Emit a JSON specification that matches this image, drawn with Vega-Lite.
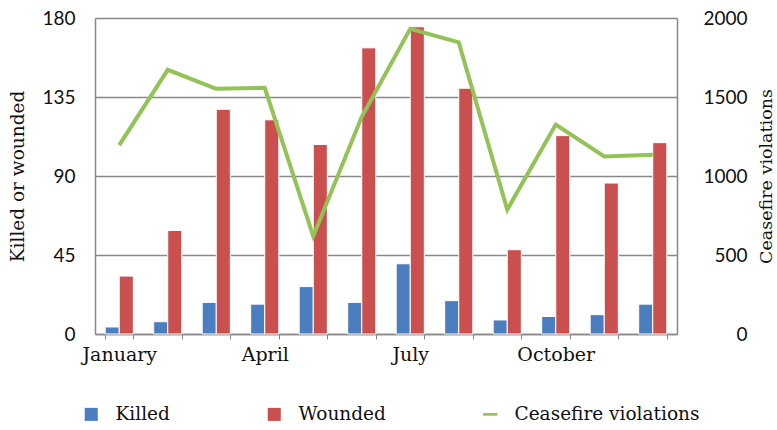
{
  "$schema": "https://vega.github.io/schema/vega-lite/v6.json",
  "width": 582,
  "height": 316,
  "autosize": {"type": "none"},
  "padding": {"left": 95, "top": 18, "right": 100, "bottom": 96},
  "background": "white",
  "config": {
    "view": {"stroke": null},
    "font": "DejaVu Serif",
    "axis": {"gridColor": "#888888", "domainColor": "#888888", "tickColor": "#888888", "labelColor": "#111111", "titleColor": "#111111", "titleFontWeight": "normal"},
    "legend": {"labelLimit": 400}
  },
  "datasets": {
    "bars": [
      {"month": "January", "series": "Killed", "value": 4},
      {"month": "January", "series": "Wounded", "value": 33},
      {"month": "February", "series": "Killed", "value": 7},
      {"month": "February", "series": "Wounded", "value": 59},
      {"month": "March", "series": "Killed", "value": 18},
      {"month": "March", "series": "Wounded", "value": 128},
      {"month": "April", "series": "Killed", "value": 17},
      {"month": "April", "series": "Wounded", "value": 122},
      {"month": "May", "series": "Killed", "value": 27},
      {"month": "May", "series": "Wounded", "value": 108},
      {"month": "June", "series": "Killed", "value": 18},
      {"month": "June", "series": "Wounded", "value": 163},
      {"month": "July", "series": "Killed", "value": 40},
      {"month": "July", "series": "Wounded", "value": 175},
      {"month": "August", "series": "Killed", "value": 19},
      {"month": "August", "series": "Wounded", "value": 140},
      {"month": "September", "series": "Killed", "value": 8},
      {"month": "September", "series": "Wounded", "value": 48},
      {"month": "October", "series": "Killed", "value": 10},
      {"month": "October", "series": "Wounded", "value": 113},
      {"month": "November", "series": "Killed", "value": 11},
      {"month": "November", "series": "Wounded", "value": 86},
      {"month": "December", "series": "Killed", "value": 17},
      {"month": "December", "series": "Wounded", "value": 109}
    ],
    "line": [
      {"month": "January", "violations": 1195},
      {"month": "February", "violations": 1672},
      {"month": "March", "violations": 1552},
      {"month": "April", "violations": 1558},
      {"month": "May", "violations": 619},
      {"month": "June", "violations": 1375},
      {"month": "July", "violations": 1931},
      {"month": "August", "violations": 1846},
      {"month": "September", "violations": 787},
      {"month": "October", "violations": 1326},
      {"month": "November", "violations": 1124},
      {"month": "December", "violations": 1135}
    ]
  },
  "encoding": {
    "x": {
      "field": "month",
      "type": "nominal",
      "sort": ["January","February","March","April","May","June","July","August","September","October","November","December"],
      "scale": {"paddingInner": 0.42, "paddingOuter": 0.21},
      "axis": {
        "title": null,
        "labelAngle": 0,
        "labelFontSize": 19,
        "labelFont": "DejaVu Serif",
        "labelPadding": 6,
        "tickSize": 5,
        "tickBand": "extent",
        "domainWidth": 1.5,
        "labelExpr": "indexof(['January','April','July','October'], datum.value) >= 0 ? datum.value : ''"
      }
    }
  },
  "layer": [
    {
      "data": {"name": "bars"},
      "mark": {"type": "bar", "stroke": "white", "strokeWidth": 1},
      "encoding": {
        "xOffset": {"field": "series", "type": "nominal", "sort": ["Killed","Wounded"]},
        "y": {
          "field": "value",
          "type": "quantitative",
          "scale": {"domain": [0, 180], "nice": false},
          "axis": {
            "title": "Killed or wounded",
            "titleFontSize": 18.5,
            "titleFont": "DejaVu Serif",
            "titleAngle": -90,
            "titleX": -78,
            "titleY": 158,
            "titleAlign": "center",
            "titleBaseline": "middle",
            "titleLimit": 400,
            "values": [0, 45, 90, 135, 180],
            "labelFont": "Lato",
            "labelFontSize": 19,
            "labelPadding": 20,
            "ticks": false,
            "domainWidth": 1.5,
            "gridWidth": 1.5
          }
        },
        "color": {
          "field": "series",
          "type": "nominal",
          "scale": {"domain": ["Killed", "Wounded", "Ceasefire violations"], "range": ["#4A7EBF", "#C9504F", "#93C256"]},
          "legend": {
            "title": null,
            "orient": "none",
            "direction": "horizontal",
            "legendX": -13,
            "legendY": 387,
            "labelFont": "DejaVu Serif",
            "labelFontSize": 18.5,
            "labelColor": "#111111",
            "labelLimit": 400,
            "symbolSize": 170,
            "labelOffset": 15,
            "columnPadding": 95,
            "encode": {
              "symbols": {
                "update": {
                  "shape": {"signal": "datum.value === 'Ceasefire violations' ? 'M-1.1,-0.2H1.1V0.2H-1.1Z' : 'square'"},
                  "fill": {"signal": "datum.value === 'Killed' ? '#4A7EBF' : datum.value === 'Wounded' ? '#C9504F' : '#93C256'"},
                  "strokeWidth": {"value": 0},
                  "opacity": {"value": 1},
                  "fillOpacity": {"value": 1}
                }
              }
            }
          }
        }
      }
    },
    {
      "data": {"name": "line"},
      "mark": {"type": "line", "strokeWidth": 4, "strokeJoin": "miter"},
      "encoding": {
        "y": {
          "field": "violations",
          "type": "quantitative",
          "scale": {"domain": [0, 2000], "nice": false},
          "axis": {
            "orient": "right",
            "title": "Ceasefire violations",
            "titleFontSize": 17.5,
            "titleFont": "DejaVu Serif",
            "titleAngle": -90,
            "titleX": 89,
            "titleY": 158,
            "titleAlign": "center",
            "titleBaseline": "middle",
            "titleLimit": 400,
            "values": [0, 500, 1000, 1500, 2000],
            "format": "d",
            "labelFont": "Lato",
            "labelFontSize": 19,
            "labelAlign": "right",
            "labelPadding": 70,
            "ticks": false,
            "grid": false,
            "domainWidth": 1.5
          }
        },
        "color": {
          "datum": "Ceasefire violations",
          "legend": {
            "title": null,
            "orient": "none",
            "direction": "horizontal",
            "legendX": -13,
            "legendY": 387,
            "labelFont": "DejaVu Serif",
            "labelFontSize": 18.5,
            "labelColor": "#111111",
            "labelLimit": 400,
            "symbolSize": 170,
            "labelOffset": 15,
            "columnPadding": 95,
            "encode": {
              "symbols": {
                "update": {
                  "shape": {"signal": "datum.value === 'Ceasefire violations' ? 'M-1.1,-0.2H1.1V0.2H-1.1Z' : 'square'"},
                  "fill": {"signal": "datum.value === 'Killed' ? '#4A7EBF' : datum.value === 'Wounded' ? '#C9504F' : '#93C256'"},
                  "strokeWidth": {"value": 0},
                  "opacity": {"value": 1},
                  "fillOpacity": {"value": 1}
                }
              }
            }
          }
        }
      }
    }
  ],
  "resolve": {"scale": {"y": "independent"}}
}
